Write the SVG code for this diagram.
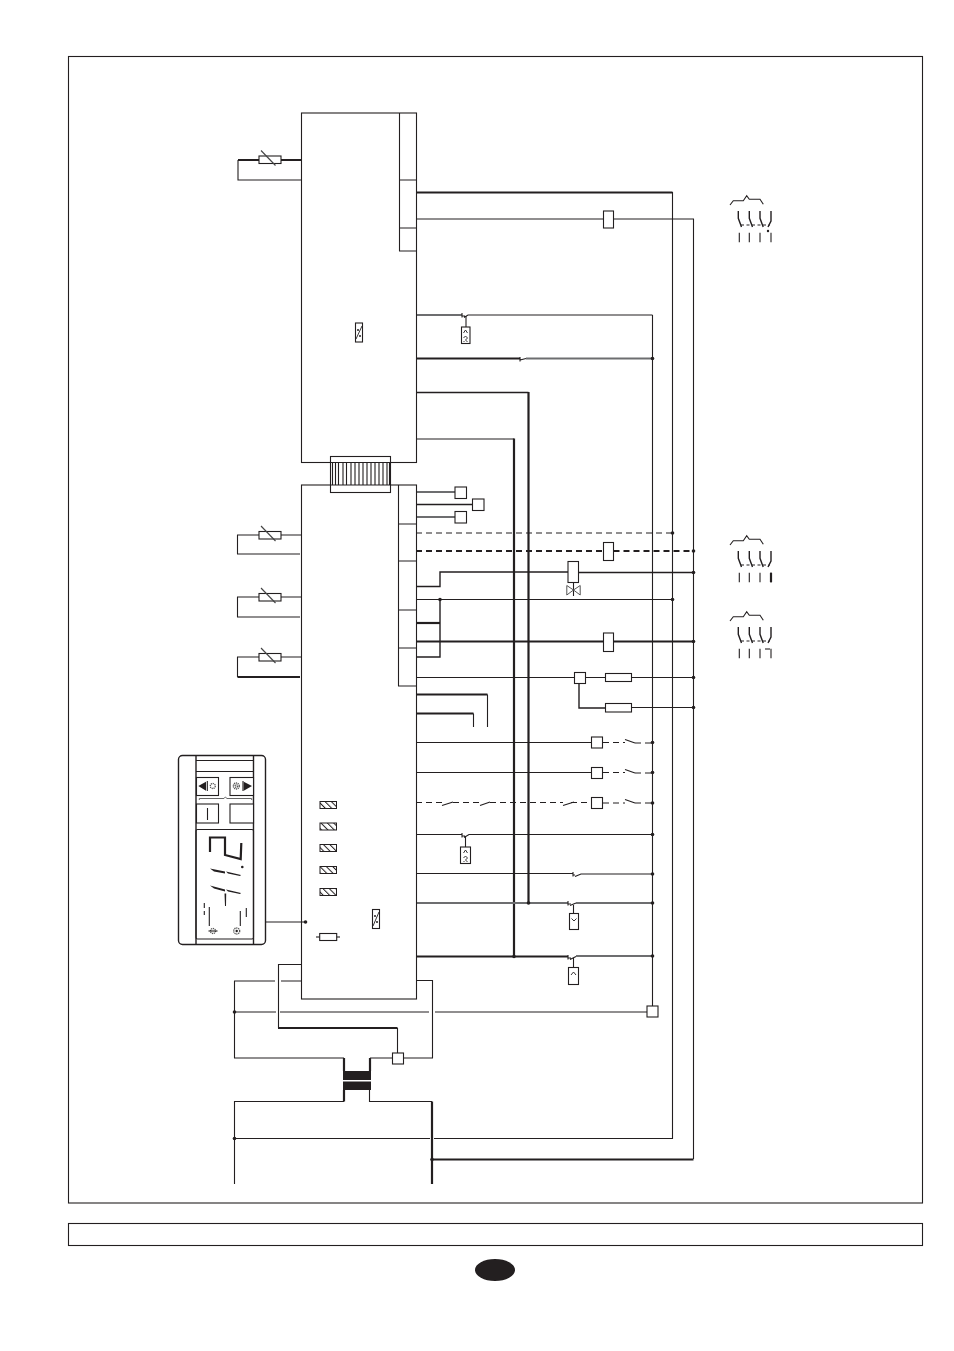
<svg xmlns="http://www.w3.org/2000/svg" width="954" height="1351" viewBox="0 0 954 1351">
<style>
.t{fill:none;stroke:#231f20;stroke-width:1.1}
.m{fill:none;stroke:#231f20;stroke-width:1.4}
.k{fill:none;stroke:#231f20;stroke-width:2.2}
.g{fill:none;stroke:#6d6e70;stroke-width:1.9}
.d{fill:none;stroke:#231f20;stroke-width:1.1;stroke-dasharray:6 4}
.dk{fill:none;stroke:#231f20;stroke-width:2;stroke-dasharray:6 4}
.b{fill:#fff;stroke:#231f20;stroke-width:1.1}
.n{fill:#231f20;stroke:none}
.ic{fill:none;stroke:#555;stroke-width:1.3;stroke-dasharray:1.2 .7}
.u{fill:none;stroke:#231f20;stroke-width:.9}
</style>
<defs>
<pattern id="hatch" width="4.500" height="4.500" patternUnits="userSpaceOnUse" patternTransform="rotate(-45)"><rect width="4.500" height="4.500" fill="#fff"/><rect width="1" height="4.500" fill="#231f20"/></pattern>
<g id="dot"><circle r="1.800" class="n"/></g>
<g id="contactor">
<path class="t" d="M730,205L733.300,200.700H743.300L746.700,195.700L749.300,199.300H760L763.300,204.300"/>
<path class="m" d="M738.300,211V218.300L741.500,227M749.300,211V218.300L752.500,227M760,211V218.300L763.200,227M771,211V221L768,227"/>
<path class="t" d="M739.300,232.700V242.300M749.300,232.700V242.300M760,232.700V242.300M771,232.700V242.300"/>
<path class="t" stroke-width="1.300" stroke-dasharray="3 2.500" d="M741,225H770"/>
</g>
<g id="sensorR">
<rect x="259" y="-4" width="22" height="7.500" class="b"/>
<path fill="none" stroke="#444" stroke-width="1.100" d="M261,-9.500L275.500,5.500"/>
</g>
<g id="uSym"><path class="u" d="M-2,3L0,0L2,3M-2,8L0,6L2,8L0,10L2,12M-2,11L-1,12"/></g>
</defs>
<rect width="954" height="1351" fill="#fff"/>
<g id="frame">
<rect x="68.500" y="56.500" width="854" height="1146.500" class="t"/>
<rect x="68.500" y="1223.500" width="854" height="22" class="t"/>
<ellipse cx="495" cy="1270" rx="20" ry="11" class="n"/>
</g>
<g id="connectors">
<path class="k" d="M416,192.500H672.500"/>
<path class="t" stroke-width="1.300" d="M672.500,192V1138.500H434M430,1138.500H234.500"/>
<path class="t" d="M416,219H603.500M613.500,219H693.500V1159"/>
<path class="k" d="M432,1159.500H693.500"/>
<path class="g" d="M416,315H462"/>
<path class="t" d="M462,313V317.500M462,316H465M464,317.500L468,315H652.500"/>
<path class="t" d="M466,316V327"/>
<path class="k" d="M416,358.500H520"/>
<path class="t" d="M520,357V361.500M520,360L526,358.500"/><path class="g" stroke-width="1.300" d="M526,358.500H652.500"/>
<path class="m" d="M416,392.500H528.500"/><path class="k" d="M528.500,392V903"/>
<path class="t" d="M416,439H514"/>
<path class="k" d="M514,438.500V957"/>
<path class="t" stroke-width="1.300" d="M652.500,315V1006"/>
<path class="g" stroke="#999" d="M416,492H455"/>
<path class="m" d="M416,504.500H472.500"/>
<path class="g" d="M416,517H455"/>
<path class="d" stroke="#555" d="M416,533H672.500"/>
<path class="dk" d="M416,551H603.500M613.500,551H693.500"/>
<path class="m" d="M416,586.500H440V572H568M578.500,572.500H693.500"/>
<path class="t" d="M573.500,582.500V596"/>
<path class="t" d="M416,599.500H672.500"/>
<path class="k" d="M416,623H440"/>
<path class="m" d="M440,599.500V657H416"/>
<path class="k" d="M416,641.500H603.500M613.500,641.500H693.500"/>
<path class="t" d="M416,677.500H574.500M585.500,677.500H605M631.500,677.500H693.500"/>
<path class="m" d="M579,683.500V708H605"/>
<path class="t" d="M631.500,707.500H693.500"/>
<path class="k" d="M416,694.500H487.500"/>
<path class="t" d="M487.500,694.500V727"/>
<path class="k" d="M416,713.500H473.500"/>
<path class="t" d="M473.500,713.500V727"/>
<path class="t" d="M416,742.500H591.500"/>
<path class="d" d="M603,742.500H625M635,743H652.500"/><path class="t" d="M625,739.500L635,743"/>
<path class="t" d="M416,772.500H591.500"/>
<path class="d" d="M603,772.500H625M635,773H652.500"/><path class="t" d="M625,769.500L635,773"/>
<path class="d" d="M416,802.500H444M453,802.500H480M490,802.500H563M571,802.500H591.500M603,803H625M635,803H652.500"/>
<path class="t" d="M442,805.500L453,802M480,805.500L490,802M563,805.500L574,802M625,799.500L635,803"/>
<path class="t" d="M416,834.500H462M462,833V837.500M462,836H465M464,837.500L469,834.500H652.500"/>
<path class="t" d="M465.500,836V847"/>
<path class="t" d="M416,873.500H573M573,872V876.500M573,875H575M575,876.500L581,874H652.500"/>
<path class="g" d="M416,903H568"/>
<path class="t" d="M568,901V905.500M568,904H571"/><path class="t" d="M570,905.500L576,903"/><path class="g" d="M576,903H652.500"/>
<path class="t" d="M573.500,905V913"/>
<path class="k" d="M416,956.500H568"/>
<path class="t" d="M568,955V959.500M568,958H571M570,959.500L576,956.500"/><path class="g" d="M576,956H652.500"/>
<path class="t" d="M573.500,958V967"/>
<path class="t" d="M301,964.500H278.500V1028"/>
<path class="k" d="M278,1028H397.500"/>
<path class="t" d="M397.500,1028V1053"/>
<path class="t" d="M275,981H234.500V1058H344M281,981H301"/>
<path class="k" d="M344,1058V1071M370,1058V1071M344,1090V1101.500"/>
<path class="t" d="M370,1058H392.500M403.500,1058H432.500V980.500H416"/>
<path class="t" d="M344,1101.500H234.500V1184"/>
<path class="t" d="M369.500,1090V1101.500H432"/>
<path class="k" d="M432,1101.500V1184"/>
<path class="t" d="M234.500,1012H276M280,1012H429M435,1012H647"/>
<path class="t" d="M266,922H305"/>
<g>
<use href="#dot" x="305.500" y="922"/>
<use href="#dot" x="672.500" y="533"/><use href="#dot" x="693.500" y="551"/><use href="#dot" x="693.500" y="572.500"/>
<use href="#dot" x="672.500" y="599.500"/><use href="#dot" x="440" y="599.500"/><use href="#dot" x="693.500" y="641.500"/>
<use href="#dot" x="693.500" y="677.500"/><use href="#dot" x="693.500" y="707.500"/>
<use href="#dot" x="652.500" y="358.500"/><use href="#dot" x="652.500" y="742.500"/><use href="#dot" x="652.500" y="772.500"/><use href="#dot" x="652.500" y="803"/>
<use href="#dot" x="652.500" y="834.500"/><use href="#dot" x="652.500" y="874"/><use href="#dot" x="652.500" y="903"/><use href="#dot" x="652.500" y="956"/>
<use href="#dot" x="528.500" y="903"/><use href="#dot" x="514" y="956.500"/>
<use href="#dot" x="234.500" y="1012"/><use href="#dot" x="234.500" y="1138.500"/><use href="#dot" x="432" y="1159.500"/>
</g>
</g>
<g id="module-top">
<rect x="301.500" y="113" width="115" height="349.500" class="t"/>
<path class="t" d="M399.500,113V251H416.500M399.500,180H416.500M399.500,228H416.500"/>
<rect x="355.500" y="323" width="7" height="19" class="b"/>
<path class="u" d="M356,339L362,326"/><circle cx="358" cy="330" r="1" class="n"/><circle cx="360" cy="336" r="1" class="n"/>
</g>
<g id="module-bottom">
<rect x="301.500" y="485" width="115" height="514" class="t"/>
<path class="t" d="M398.500,485V686H416.500M398.500,524H416.500M398.500,561H416.500M398.500,610H416.500M398.500,648H416.500"/>
<rect x="320" y="801.500" width="16.500" height="7" fill="url(#hatch)" stroke="#231f20"/>
<rect x="320" y="823" width="16.500" height="7" fill="url(#hatch)" stroke="#231f20"/>
<rect x="320" y="844.500" width="16.500" height="7" fill="url(#hatch)" stroke="#231f20"/>
<rect x="320" y="866.500" width="16.500" height="7" fill="url(#hatch)" stroke="#231f20"/>
<rect x="320" y="888.500" width="16.500" height="7" fill="url(#hatch)" stroke="#231f20"/>
<rect x="372.500" y="909.500" width="7" height="19" class="b"/>
<path class="u" d="M373,926L379,912"/><circle cx="375" cy="916" r="1" class="n"/><circle cx="377" cy="922" r="1" class="n"/>
<path class="t" d="M316,937H340"/>
<rect x="319.700" y="933.500" width="17" height="7" class="b"/>
</g>
<g id="bus-connector">
<rect x="330.500" y="456.500" width="60" height="36" class="b"/>
<path class="t" d="M332.500,462.500V485M335.500,462.500V485M338.500,462.500V485M343,462.500V485M346.500,462.500V485M351,462.500V485M355,462.500V485M359,462.500V485M363,462.500V485M367,462.500V485M371,462.500V485M375,462.500V485M379,462.500V485M383,462.500V485M387,462.500V485M389.500,462.500V485"/>
<path class="t" d="M330.500,462.500H390.500M330.500,485H390.500"/>
</g>
<g id="sensor-1"><path class="k" d="M301,160H280M259,160H238"/><path class="t" d="M238,160V180H301"/><use href="#sensorR" y="160"/></g>
<g id="sensor-2"><path class="t" d="M301,535H281M259,535H237.500V554H300"/><use href="#sensorR" y="535.500"/></g>
<g id="sensor-3"><path class="t" d="M301,597H281M259,597H237.500V617H300"/><use href="#sensorR" y="597.500"/></g>
<g id="sensor-4"><path class="t" d="M301,657H281M259,657H237.500V677"/><path class="k" d="M237.500,677H300"/><use href="#sensorR" y="657.500"/></g>
<g id="K1"><rect x="603.500" y="211" width="10" height="17" class="b"/></g>
<g id="relay-u1"><rect x="461.500" y="327" width="8.500" height="16.500" class="b"/><use href="#uSym" x="465.500" y="330"/></g>
<g id="T1"><rect x="455" y="487" width="11.500" height="11.500" class="b"/></g>
<g id="T2"><rect x="472.500" y="499" width="11.500" height="11.500" class="b"/></g>
<g id="T3"><rect x="455" y="511.500" width="11.500" height="11.500" class="b"/></g>
<g id="K2"><rect x="603.500" y="542.500" width="10" height="18" class="b"/></g>
<g id="valve"><rect x="568" y="561.500" width="10.500" height="21" class="b"/>
<path fill="none" stroke="#555" stroke-width="1" d="M566.800,585.500L573.500,590L566.800,595V585.500ZM580.200,585.500L573.500,590L580.200,595V585.500Z"/></g>
<g id="K3"><rect x="603.500" y="633" width="10" height="18.500" class="b"/></g>
<g id="N1"><rect x="574.500" y="672.500" width="11" height="11" class="b"/></g>
<g id="R1"><rect x="605.500" y="673.500" width="26" height="8" class="b"/></g>
<g id="R2"><rect x="605.500" y="703.500" width="26" height="8.500" class="b"/></g>
<g id="B1"><rect x="591.500" y="737" width="11" height="11" class="b"/></g>
<g id="B2"><rect x="591.500" y="767.500" width="11" height="11" class="b"/></g>
<g id="B3"><rect x="591.500" y="797.500" width="11" height="11" class="b"/></g>
<g id="relay-u2"><rect x="460.500" y="847" width="10" height="16.500" class="b"/><use href="#uSym" x="465.500" y="850"/></g>
<g id="relay-u3"><rect x="569.500" y="913.500" width="9" height="16" class="b"/><path class="u" d="M571.500,918.500L574,921L576.500,918.500"/></g>
<g id="relay-u4"><rect x="568.500" y="967.500" width="10" height="17" class="b"/><path class="u" d="M571,975L573.500,972L576,975"/></g>
<g id="N2"><rect x="647" y="1006" width="11" height="11" class="b"/></g>
<g id="N3"><rect x="392.500" y="1053" width="11" height="11" class="b"/></g>
<g id="transformer"><rect x="343" y="1071" width="28" height="9" class="n"/><rect x="343" y="1081.500" width="28" height="8.500" class="n"/></g>
<g id="contactor-1"><use href="#contactor"/><circle cx="768" cy="231" r="1.200" class="n"/></g>
<g id="contactor-2"><use href="#contactor" y="340"/><path class="k" d="M771,572.700V582.300"/></g>
<g id="contactor-3"><use href="#contactor" y="416"/><path class="t" d="M765,649H770"/></g>
<g id="display">
<rect x="178.500" y="755.500" width="87" height="189" rx="4" class="m"/>
<path class="m" d="M196,755.500V944.500M253.500,755.500V944.500"/>
<path class="t" d="M196,760.500H253.500M196,771.500H253.500"/>
<rect x="196.500" y="777.500" width="22" height="18" class="b"/>
<rect x="230" y="777.500" width="23.500" height="18" class="b"/>
<path class="n" d="M198.300,786L206,781.700V790.700ZM243.700,781.700V790.700L252,786Z"/>
<path class="t" d="M207.300,781V791M243,781V791"/>
<circle cx="212.800" cy="786" r="2.500" class="ic"/>
<circle cx="236.300" cy="786" r="3" class="ic"/>
<circle cx="236.300" cy="786" r="1.300" class="ic"/>
<path fill="none" stroke="#666" stroke-width="1" d="M199.300,800V798.500H224L225.300,797L227,798.500H251.700V800"/>
<rect x="196.500" y="804" width="22" height="19" class="b"/>
<path class="t" d="M207.500,808V820"/>
<rect x="230" y="804" width="23.500" height="19" class="b"/>
<rect x="196" y="829.500" width="57.500" height="109.500" rx="1.500" class="t"/>
<path fill="none" stroke="#231f20" stroke-width="2.200" d="M210,852V837.500H225V855L240.700,859L241.300,843"/>
<circle cx="242.300" cy="867" r="1.300" class="n"/>
<path class="n" d="M210,868.500L225,871.500L225,873.500L214,871.500ZM226,871.500L241,875L240,876L228,873.500ZM210,885.500L225,889.500L225,891.500L214,888.500ZM226,889.500L241,893L240,894L228,891.500ZM224.500,893.500H226.200L226,906H225Z"/>
<path class="t" d="M204.300,903V908M204.300,911V915M209.300,907V926M240.300,911V926M246.300,908V917"/>
<circle cx="213" cy="931" r="2.500" class="ic" stroke-width="1.800"/><path class="t" d="M208.500,931H217.500"/>
<circle cx="236.700" cy="931" r="3" class="ic" stroke-width="1.800"/><circle cx="236.700" cy="931" r="1.200" class="n"/>
</g>
</svg>
